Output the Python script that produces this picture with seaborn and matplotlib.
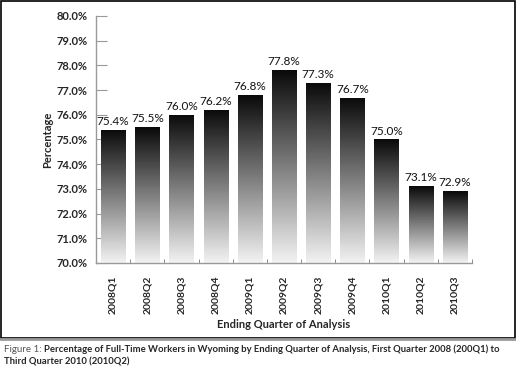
from matplotlib import pyplot as plt
from matplotlib.patches import Rectangle
from matplotlib.lines import Line2D
import numpy as np
import pandas as pd
import seaborn as sns

quarters = ['2008Q1', '2008Q2', '2008Q3', '2008Q4', '2009Q1', '2009Q2',
            '2009Q3', '2009Q4', '2010Q1', '2010Q2', '2010Q3']
full_time_pct = [75.4, 75.5, 76.0, 76.2, 76.8, 77.8, 77.3, 76.7, 75.0, 73.1, 72.9]
y_ticks = [70, 71, 72, 73, 74, 75, 76, 77, 78, 79, 80]

df = pd.DataFrame({'quarter': quarters, 'pct': full_time_pct})

sns.set_style('white')
plt.rcParams['font.family'] = ['Lato', 'DejaVu Sans']

fig = plt.figure(figsize=(5.16, 3.71), dpi=100)
ax = fig.add_axes([96 / 516, 1 - 263 / 371, 376 / 516, 247 / 371])

sns.barplot(data=df, x='quarter', y='pct', color='black', width=0.71,
            saturation=1, ax=ax)

# vertical black -> light gray gradient on every bar
grad = np.linspace(0.95, 0.04, 256).reshape(-1, 1)
for bar, val in zip(ax.patches, full_time_pct):
    x0 = bar.get_x()
    w = bar.get_width()
    bar.set_facecolor('none')
    bar.set_edgecolor('none')
    img = ax.imshow(grad, cmap='gray', vmin=0, vmax=1, aspect='auto',
                    extent=[x0, x0 + w, 70, val], origin='lower',
                    zorder=2, interpolation='bilinear')
    img.set_clip_path(bar)
    ax.text(x0 + w / 2, val + 0.12, '{:.1f}%'.format(val), ha='center',
            va='bottom', fontsize=8.5, color='#111111')
ax.set_ylim(70, 80)
ax.set_xlim(-0.5, len(quarters) - 0.5)

ax.set_yticks(y_ticks)
ax.set_yticklabels(['{:.1f}%'.format(t) for t in y_ticks], fontweight='bold',
                   fontsize=8)
ax.tick_params(axis='y', direction='in', length=8, color='#999999',
               pad=6, left=True)
ax.set_xticks(range(len(quarters)))
ax.set_xticklabels(quarters, rotation=90, fontweight='bold', fontsize=7.5)
ax.tick_params(axis='x', length=0, pad=9)
ax.set_xticks(np.arange(-0.5, len(quarters)), minor=True)
ax.tick_params(axis='x', which='minor', direction='in', length=3,
               color='#777777', bottom=True)

for s in ['top', 'right']:
    ax.spines[s].set_visible(False)
for s in ['left', 'bottom']:
    ax.spines[s].set_color('#999999')
    ax.spines[s].set_linewidth(1.0)

ax.set_xlabel('')
ax.set_ylabel('')
fig.text(48 / 516, 1 - 140 / 371, 'Percentage', rotation=90, ha='center',
         va='center', fontweight='bold', fontsize=8)
fig.text(284 / 516, 1 - 325 / 371, 'Ending Quarter of Analysis', ha='center',
         va='center', fontweight='bold', fontsize=8)

# outer frame
fig.add_artist(Rectangle((0.5 / 516, 1 - 338 / 371), 514 / 516, 337.5 / 371,
                         transform=fig.transFigure, fill=False,
                         edgecolor='black', linewidth=1.2))
fig.add_artist(Line2D([0, 1], [1 - 339 / 371] * 2, transform=fig.transFigure,
                      color='#999999', linewidth=2))

# caption
fig.text(4 / 516, 1 - 349 / 371, 'Figure 1:', ha='left', va='center',
         fontsize=7, color='#555555')
fig.text(44 / 516, 1 - 349 / 371,
         'Percentage of Full-Time Workers in Wyoming by Ending Quarter of Analysis, '
         'First Quarter 2008 (200Q1) to', ha='left', va='center', fontsize=6.85,
         fontweight='bold')
fig.text(4 / 516, 1 - 362 / 371, 'Third Quarter 2010 (2010Q2)', ha='left',
         va='center', fontsize=6.85, fontweight='bold')

fig.savefig('out.png', dpi=100)
plt.close(fig)
